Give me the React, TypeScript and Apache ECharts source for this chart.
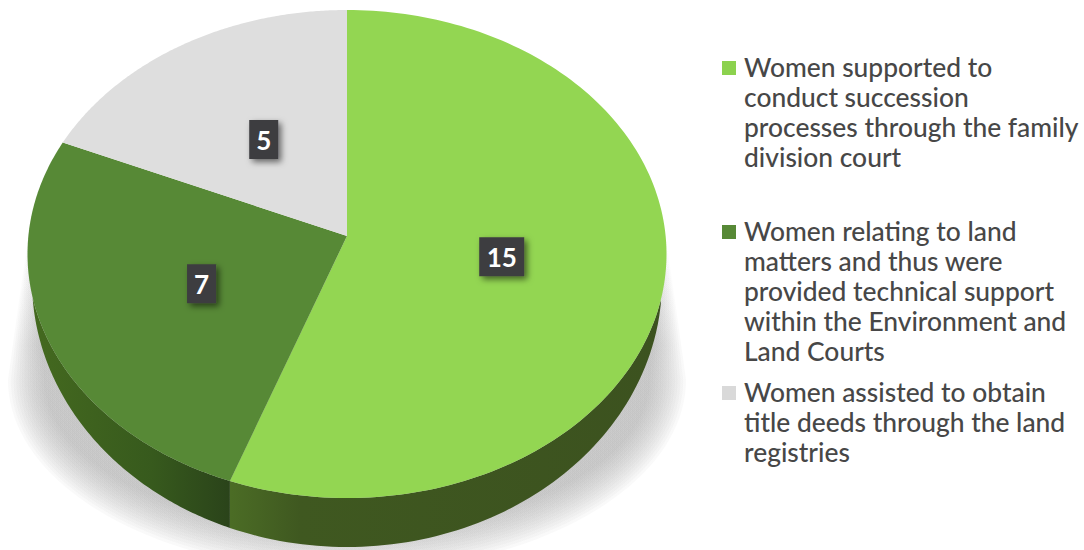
import React, { useEffect, useRef } from "react";
import * as echarts from "echarts";

const names = [
  "Women supported to\nconduct succession\nprocesses through the family\ndivision court",
  "Women relating to land\nmatters and thus were\nprovided technical support\nwithin the Environment and\nLand Courts",
  "Women assisted to obtain\ntitle deeds through the land\nregistries",
];
const values = [15, 7, 5];
const faceColors = ["#93D652", "#578936", "#DEDEDE"];
const swatchColors = ["#8CD24E", "#578936", "#D9D9D9"];
const legendTops = [52, 216, 377];

const CX = 347, CY = 236;
const UP = 226, DOWN = 262, RX = 319.5;
const K = (DOWN - UP) / (DOWN + UP);
const A = UP * (1 + K);
const B = RX * Math.sqrt(1 - K * K);
const total = values.reduce((a, b) => a + b, 0);

// perspective projection of the pie disc onto the page
function project(angle: number, r: number): [number, number] {
  const u = Math.sin(angle) * r, v = Math.cos(angle) * r;
  const w = 1 + K * v;
  return [CX + (B * u) / w, CY - (A * v) / w];
}
const BX = 315, BY = 281, BRY = 266;
function lowerRim(x: number) {
  const d = (x - CX) / BX;
  return BY + BRY * Math.sqrt(Math.max(0, 1 - d * d));
}

function sideFill(i: number) {
  const stops =
    i === 0
      ? [[0, "#4B6C25"], [0.16, "#3F5820"], [1, "#3C521F"]]
      : [[0, "#44691F"], [0.6, "#375A1D"], [1, "#2A431A"]];
  const range = i === 0 ? [231, 663] : [33, 231];
  return {
    type: "linear", global: true, x: range[0], y: 0, x2: range[1], y2: 0,
    colorStops: stops.map(([offset, color]) => ({ offset, color })),
  };
}

function makeRenderItem(i: number) {
  return (_: any, api: any) => {
    const value = api.value(0), before = api.value(1);
    const a0 = (before / total) * Math.PI * 2;
    const a1 = ((before + value) / total) * Math.PI * 2;
    const N = 160;
    const rim: [number, number][] = [];
    for (let s = 0; s <= N; s++) rim.push(project(a0 + ((a1 - a0) * s) / N, 1));
    const upper: number[][] = [], lower: number[][] = [];
    rim.forEach((p) => {
      if (Math.abs(p[0] - CX) < BX && p[1] > CY && lowerRim(p[0]) > p[1]) {
        upper.push(p);
        lower.push([p[0], lowerRim(p[0])]);
      }
    });
    const children: any[] = [];
    if (upper.length > 1) {
      children.push({
        type: "polygon",
        shape: { points: upper.concat(lower.reverse()) },
        style: { fill: sideFill(i) },
      });
    }
    children.push({
      type: "polygon",
      shape: { points: [[CX, CY] as number[]].concat(rim) },
      style: { fill: faceColors[i] },
    });
    const [lx, ly] = project((a0 + a1) / 2, 0.49);
    const w = String(value).length === 1 ? 29 : 45;
    children.push({
      type: "rect",
      shape: { x: lx - w / 2, y: ly - 19.5, width: w, height: 39 },
      style: {
        fill: "#3D3D40",
        shadowBlur: 6,
        shadowOffsetX: 3,
        shadowOffsetY: 3,
        shadowColor: "rgba(0,0,0,0.55)",
      },
    });
    children.push({
      type: "text",
      x: lx,
      y: ly,
      style: {
        text: String(value),
        fill: "#FFFFFF",
        font: 'bold 26px Lato, "Open Sans", sans-serif',
        textAlign: "center",
        textVerticalAlign: "middle",
      },
    });
    return { type: "group", children };
  };
}

function shadowShapes() {
  const out: any[] = [];
  const layers = 14;
  for (let l = 0; l < layers; l++) {
    const f = l / (layers - 1);
    const rx = 339 - 36 * f;
    const ry = 192 - 40 * f;
    const pts: number[][] = [[CX - 319, 236], [CX + 319, 236]];
    for (let s = 0; s <= 80; s++) {
      const t = (s / 80) * Math.PI;
      pts.push([CX + rx * Math.cos(t), 380 + ry * Math.sin(t)]);
    }
    out.push({
      type: "polygon",
      silent: true,
      shape: { points: pts },
      style: {
        fill: {
          type: "linear", global: true, x: 0, y: 235, x2: 0, y2: 345,
          colorStops: [
            { offset: 0, color: "rgba(160,160,160,0)" },
            { offset: 1, color: "rgba(160,160,160,0.06)" },
          ],
        },
      },
    });
  }
  return out;
}

function swatchPath(lines: number) {
  const H = lines * 30;
  return `path://M0 0L0 0M17 ${H}L17 ${H}M0 9H14V23H0Z`;
}

export default function App() {
  const ref = useRef<HTMLDivElement>(null);
  useEffect(() => {
    const chart = echarts.init(ref.current!, undefined, { renderer: "svg" });
    let cum = 0;
    const series = values.map((v, i) => {
      const start = cum;
      cum += v;
      return {
        type: "custom",
        name: names[i],
        coordinateSystem: "none",
        itemStyle: { color: faceColors[i] },
        data: [[v, start]],
        renderItem: makeRenderItem(i),
      };
    });
    chart.setOption({
      animation: false,
      backgroundColor: "#FFFFFF",
      graphic: { elements: shadowShapes() },
      legend: names.map((n, i) => {
        const lines = n.split("\n").length;
        return {
          left: 722,
          top: legendTops[i],
          padding: 0,
          orient: "vertical",
          selectedMode: false,
          itemWidth: 17,
          itemHeight: lines * 30,
          data: [{ name: n, icon: swatchPath(lines), itemStyle: { color: swatchColors[i] } }],
          textStyle: {
            color: "#474747",
            fontFamily: "Lato",
            fontWeight: 500,
            fontSize: 26.4,
            lineHeight: 30,
          },
        };
      }),
      series,
    } as any);
    return () => chart.dispose();
  }, []);
  return (
    <div
      ref={ref}
      style={{ position: "absolute", left: 0, top: 0, width: 1084, height: 550 }}
    />
  );
}
